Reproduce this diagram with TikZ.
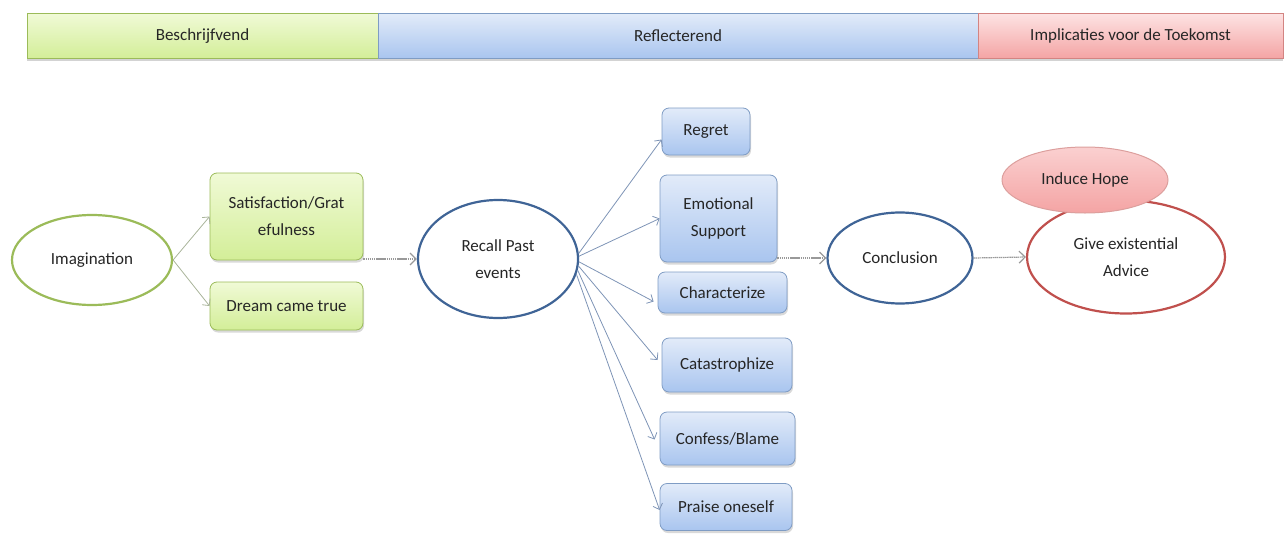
\documentclass[tikz,border=0pt]{standalone}
\usepackage{fontspec}
\setmainfont{Carlito}
\usetikzlibrary{arrows.meta,shadows,calc,shapes.geometric}
\definecolor{txt}{HTML}{262626}
\definecolor{gtop}{HTML}{F0FAD6}
\definecolor{gbot}{HTML}{D3EE98}
\definecolor{gline}{HTML}{9BBB59}
\definecolor{btop}{HTML}{E2EBF9}
\definecolor{bbot}{HTML}{A9C5EF}
\definecolor{bline}{HTML}{7F9CC4}
\definecolor{rtop}{HTML}{FDE3E3}
\definecolor{rbot}{HTML}{F4A4A4}
\definecolor{rline}{HTML}{C0504D}
\definecolor{eblue}{HTML}{3F6496}
\definecolor{arr}{HTML}{7E94B6}
\definecolor{garr}{HTML}{A9B49A}
\tikzset{
  hbar/.style={draw=#1, line width=0.6pt, minimum height=45pt, inner sep=0pt, text=txt,
    drop shadow={shadow xshift=0pt, shadow yshift=-2.5pt, opacity=0.35}},
  gbox/.style={draw=gline, line width=0.8pt, rounded corners=7pt, top color=gtop, bottom color=gbot,
    text=txt, align=center, inner sep=0pt,
    drop shadow={shadow xshift=1pt, shadow yshift=-2.5pt, opacity=0.3}},
  bbox/.style={draw=bline, line width=0.8pt, rounded corners=7pt, top color=btop, bottom color=bbot,
    text=txt, align=center, inner sep=0pt,
    drop shadow={shadow xshift=1pt, shadow yshift=-2.5pt, opacity=0.3}},
  ell/.style={ellipse, draw=#1, line width=2.2pt, fill=white, text=txt, align=center, inner sep=0pt},
  fan/.style={draw=arr, line width=0.8pt, -{Straight Barb[length=5pt,width=10pt]}},
  gfan/.style={draw=garr, line width=0.8pt, -{Straight Barb[length=5pt,width=10pt]}},
  flow/.style={draw=gray!80, line width=1.2pt, dash pattern=on 1.5pt off 0.6pt,
    -{Straight Barb[length=6pt,width=12pt]}},
}
\begin{document}
\begin{tikzpicture}[x=1pt,y=-1pt, font=\fontsize{17}{27}\selectfont]
\useasboundingbox (0,0) rectangle (1287,533);
% header bars
\node[hbar=gline, top color=gtop, bottom color=gbot, minimum width=351pt] (hb1) at (202.5,36) {Beschrijfvend};
\node[hbar=bline, top color=btop, bottom color=bbot, minimum width=600pt] (hb2) at (678,36) {Reflecterend};
\node[hbar=rline!70, top color=rtop, bottom color=rbot, minimum width=305pt] (hb3) at (1130.5,36) {Implicaties voor de Toekomst};
% left part
\node[ell=gline, minimum width=160pt, minimum height=90pt] (imag) at (92,260) {Imagination};
\node[gbox, minimum width=153pt, minimum height=87pt] (sat) at (286.5,216.5) {Satisfaction/Grat\\efulness};
\node[gbox, minimum width=153pt, minimum height=48pt] (dream) at (286.5,306) {Dream came true};
% middle
\node[ell=eblue, minimum width=160pt, minimum height=118pt] (recall) at (498,259) {Recall Past\\events};
\node[bbox, minimum width=88pt, minimum height=47pt] (regret) at (706,131.5) {Regret};
\node[bbox, minimum width=117pt, minimum height=87pt] (emo) at (718.5,218.5) {Emotional\\Support};
\node[bbox, minimum width=129pt, minimum height=41pt] (char) at (722.5,292.5) {Characterize};
\node[bbox, minimum width=130pt, minimum height=54pt] (cat) at (727,365) {Catastrophize};
\node[bbox, minimum width=135pt, minimum height=53pt] (conf) at (727.5,438.5) {Confess/Blame};
\node[bbox, minimum width=132pt, minimum height=47pt] (praise) at (726,507) {Praise oneself};
% right
\node[ell=eblue, minimum width=145pt, minimum height=91pt] (concl) at (900,258) {Conclusion};
\node[ell=rline, minimum width=198pt, minimum height=113pt] (give) at (1126,257) {Give existential\\Advice};
\node[ellipse, draw=rline!55, line width=1pt, top color=rtop!70!rbot, bottom color=rbot, text=txt,
      minimum width=166pt, minimum height=66pt, inner sep=0pt] (hope) at (1085,180) {Induce Hope};
% connectors
\draw[gfan] (imag.east) -- (sat.west);
\draw[gfan] (imag.east) -- (dream.west);
\draw[flow] (sat.east |- recall.west) -- (recall.west);
\draw[fan] (recall.4) -- ($(regret.west)+(0,8)$);
\draw[fan] (recall.2) -- (emo.west);
\draw[fan] (recall.-2) -- ($(char.west)+(-4,9)$);
\draw[fan] (recall.-5) -- ($(cat.west)+(-4,-5)$);
\draw[fan] (recall.-8) -- ($(conf.west)+(-5,1)$);
\draw[fan] (recall.-11) -- ($(praise.west)+(0,3)$);
\draw[flow] (emo.east |- concl.west) -- (concl.west);
\draw[flow] (concl.east) -- (give.west);
\end{tikzpicture}
\end{document}
